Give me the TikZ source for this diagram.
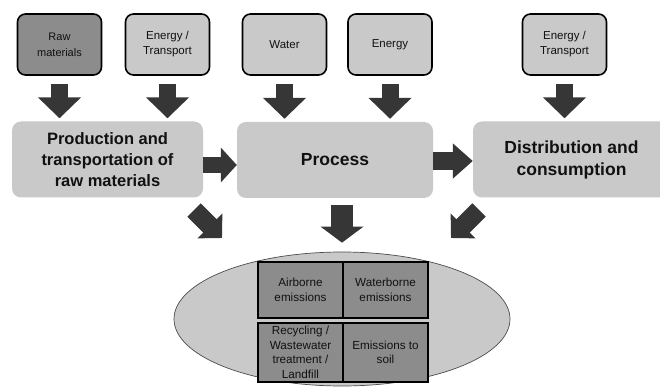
\documentclass[tikz,border=0pt]{standalone}
\usepackage{fontspec}
\setmainfont{Liberation Sans}
\usetikzlibrary{arrows.meta,shapes.geometric}
\definecolor{lightg}{HTML}{C9C9C9}
\definecolor{darkg}{HTML}{8C8C8C}
\definecolor{arr}{HTML}{363636}
\definecolor{txt}{HTML}{111111}
\begin{document}
\begin{tikzpicture}[x=1pt,y=-1pt,
  smallbox/.style={draw=black, line width=1.6pt, rounded corners=8pt, minimum width=84pt, minimum height=61pt, inner sep=0pt, align=center, text=txt, font=\fontsize{11.5}{15}\selectfont},
  mainbox/.style={fill=lightg, rounded corners=9pt, inner sep=0pt, minimum height=76pt, align=center, text=txt, font=\bfseries\fontsize{17.5}{22}\selectfont},
  cellbox/.style={draw=black, line width=1.2pt, fill=darkg, minimum width=85pt, inner sep=0pt, align=center, text=txt, font=\fontsize{11.7}{14.5}\selectfont},
  vblk/.style={draw=arr, line width=17pt, -{Triangle[length=21pt,width=42pt]}, shorten <=8pt, shorten >=3pt},
  hblk/.style={draw=arr, line width=17pt, -{Triangle[length=18pt,width=34pt]}},
  dblk/.style={draw=arr, line width=19pt, -{Triangle[length=17pt,width=34pt]}},
  cblk/.style={draw=arr, line width=22pt, -{Triangle[length=16pt,width=42pt]}}
]
\clip (0,0) rectangle (660,387);
\fill[white] (0,0) rectangle (660,387);

% top input boxes
\node[smallbox, fill=darkg, font=\fontsize{11}{16}\selectfont] (raw) at (59.5,44.5) {Raw\\materials};
\node[smallbox, fill=lightg] (et1) at (167.5,44.5) {Energy /\\Transport};
\node[smallbox, fill=lightg] (water) at (284.5,44.5) {Water};
\node[smallbox, fill=lightg] (energy) at (390,44.5) {Energy};
\node[smallbox, fill=lightg] (et2) at (564.5,44.5) {Energy /\\Transport};

% main stages
\node[mainbox, minimum width=191pt, font=\bfseries\fontsize{16.5}{21}\selectfont] (prod) at (107.5,159.5) {Production and\\transportation of\\raw materials};
\node[mainbox, minimum width=196pt] (proc) at (335,160) {Process};
\node[mainbox, minimum width=197pt] (dist) at (571.5,159.5) {Distribution and\\consumption};

% vertical input arrows
\draw[vblk] (raw.south) -- (raw.south |- prod.north);
\draw[vblk] (et1.south) -- (et1.south |- prod.north);
\draw[vblk] (water.south) -- (water.south |- proc.north);
\draw[vblk] (energy.south) -- (energy.south |- proc.north);
\draw[vblk] (et2.south) -- (et2.south |- dist.north);

% horizontal flow arrows
\draw[hblk, line width=16pt, -{Triangle[length=16pt,width=34pt]}] ([yshift=-5.5pt]prod.east) -- ([yshift=-5.5pt]prod.east -| proc.west);
\draw[hblk, line width=18pt, -{Triangle[length=20pt,width=34pt]}] ([yshift=-1pt]proc.east) -- ([yshift=-1pt]proc.east -| dist.west);

% emissions ellipse
\node[ellipse, draw=black!70, line width=0.7pt, fill=lightg, minimum width=336pt, minimum height=134pt, inner sep=0pt] (em) at (342,319) {};

\node[cellbox, minimum height=56pt] (air) at (300.5,290) {Airborne\\emissions};
\node[cellbox, minimum height=56pt] (wat) at (385.5,290) {Waterborne\\emissions};
\node[cellbox, minimum height=59pt] (rec) at (300.5,352.5) {Recycling /\\Wastewater\\treatment /\\Landfill};
\node[cellbox, minimum height=59pt] (soil) at (385.5,352.5) {Emissions to\\soil};

% arrows to emissions
\coordinate (dl1) at (194,210);
\coordinate (dl2) at (222,238);
\coordinate (dr1) at (479,210);
\coordinate (dr2) at (451,238);
\draw[dblk] (dl1) -- (dl2);
\draw[dblk] (dr1) -- (dr2);
\draw[cblk, shorten <=7pt, shorten >=9pt] (proc.south -| em.north) -- (em.north);
\end{tikzpicture}
\end{document}
